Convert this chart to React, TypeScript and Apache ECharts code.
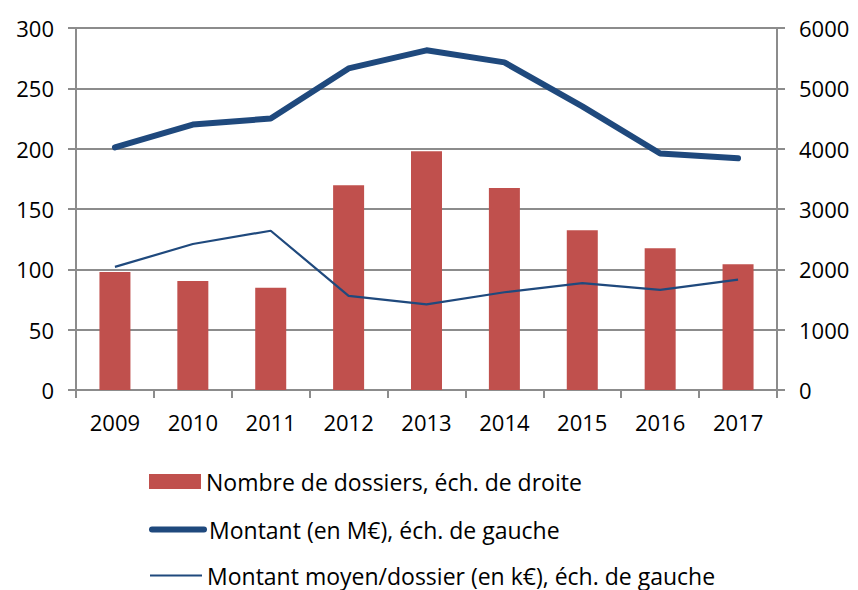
import React, { useEffect, useRef } from "react";
import * as echarts from "echarts";

const years = ["2009", "2010", "2011", "2012", "2013", "2014", "2015", "2016", "2017"];
const nombreDossiers = [1956, 1806, 1696, 3393, 3956, 3348, 2647, 2348, 2083];
const montantMEuro = [201, 220, 225, 266.5, 281.5, 271.5, 235, 196, 192];
const montantMoyen = [102, 121, 132, 78, 71, 81, 88.5, 83, 91.5];

const seriesNames = [
  "Nombre de dossiers, éch. de droite",
  "Montant (en M€), éch. de gauche",
  "Montant moyen/dossier (en k€), éch. de gauche",
];

const FONT = "Open Sans";
const BLUE = "#1F497D";
const RED = "#C0504D";
const GRID_GRAY = "#8C8C8C";
const HIDDEN = { color: "rgba(0,0,0,0)", borderWidth: 0, opacity: 0 };

const legendBase = {
  orient: "horizontal",
  left: 149,
  padding: 0,
  itemWidth: 52,
  itemHeight: 15,
  textStyle: { fontFamily: FONT, fontSize: 23, color: "#000", lineHeight: 22 },
};

export default function App() {
  const ref = useRef<HTMLDivElement>(null);
  useEffect(() => {
    if (!ref.current) return;
    const chart = echarts.init(ref.current, undefined, { renderer: "svg" });
    chart.setOption({
      animation: false,
      textStyle: { fontFamily: FONT },
      grid: { left: 76, right: 81, top: 28, bottom: 200, containLabel: false },
      legend: [
        {
          ...legendBase,
          top: 470,
          data: [{ name: seriesNames[0], icon: "rect" }],
        },
        {
          ...legendBase,
          top: 518,
          data: [{ name: seriesNames[1], lineStyle: { width: 6, cap: "round" }, itemStyle: HIDDEN }],
        },
        {
          ...legendBase,
          top: 564,
          data: [{ name: seriesNames[2], lineStyle: { width: 2 }, itemStyle: HIDDEN }],
        },
      ],
      xAxis: {
        type: "category",
        data: years,
        boundaryGap: true,
        axisLine: { lineStyle: { color: GRID_GRAY, width: 2 } },
        axisTick: { show: true, length: 8, alignWithLabel: false, lineStyle: { color: GRID_GRAY, width: 2 } },
        axisLabel: { color: "#000", fontSize: 22, margin: 21, fontFamily: FONT },
      },
      yAxis: [
        {
          type: "value",
          min: 0,
          max: 300,
          interval: 50,
          position: "left",
          axisLine: { show: true, lineStyle: { color: GRID_GRAY, width: 2 } },
          axisTick: { show: true, length: 8, lineStyle: { color: GRID_GRAY, width: 2 } },
          axisLabel: { color: "#000", fontSize: 22, margin: 22, fontFamily: FONT, formatter: (v: number) => String(v) },
          splitLine: { show: true, lineStyle: { color: GRID_GRAY, width: 2 } },
        },
        {
          type: "value",
          min: 0,
          max: 6000,
          interval: 1000,
          position: "right",
          axisLine: { show: true, lineStyle: { color: GRID_GRAY, width: 2 } },
          axisTick: { show: true, length: 8, lineStyle: { color: GRID_GRAY, width: 2 } },
          axisLabel: { color: "#000", fontSize: 22, margin: 22, fontFamily: FONT, formatter: (v: number) => String(v) },
          splitLine: { show: false },
        },
      ],
      series: [
        {
          name: seriesNames[0],
          type: "bar",
          yAxisIndex: 1,
          data: nombreDossiers,
          barWidth: 31,
          itemStyle: { color: RED },
          z: 1,
        },
        {
          name: seriesNames[1],
          type: "line",
          yAxisIndex: 0,
          data: montantMEuro,
          symbol: "none",
          lineStyle: { color: BLUE, width: 6, cap: "round", join: "round" },
          itemStyle: { color: BLUE },
          z: 3,
        },
        {
          name: seriesNames[2],
          type: "line",
          yAxisIndex: 0,
          data: montantMoyen,
          symbol: "none",
          lineStyle: { color: BLUE, width: 2.2 },
          itemStyle: { color: BLUE },
          z: 2,
        },
      ],
    });
    return () => chart.dispose();
  }, []);
  return <div ref={ref} style={{ width: 858, height: 590, position: "absolute", left: 0, top: 0 }} />;
}
